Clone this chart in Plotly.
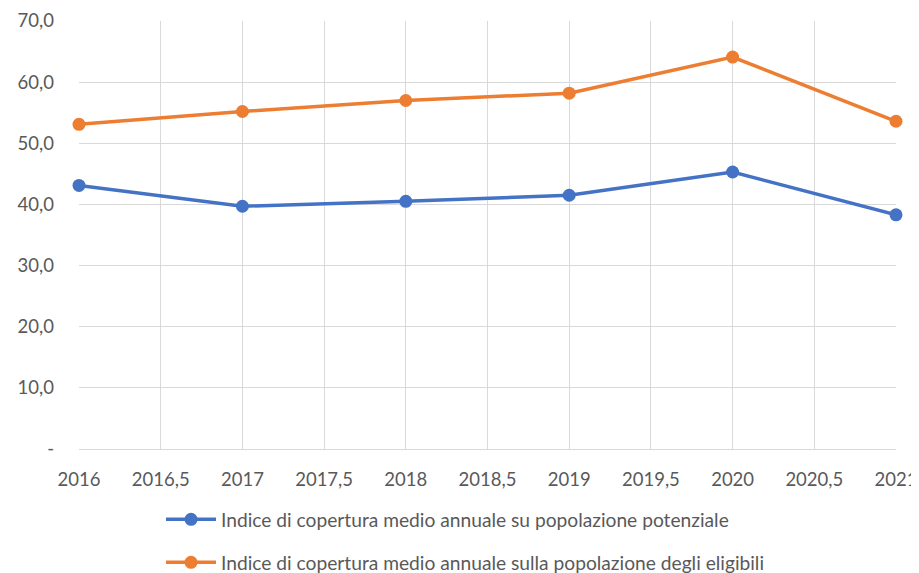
import plotly.graph_objects as go

years = [2016, 2017, 2018, 2019, 2020, 2021]
potenziale = [43.1, 39.7, 40.5, 41.5, 45.3, 38.3]
eligibili = [53.1, 55.2, 57.0, 58.2, 64.1, 53.6]

name_pot = "Indice di copertura medio annuale su popolazione potenziale"
name_eli = "Indice di copertura medio annuale sulla popolazione degli eligibili"

y_tickvals = [0, 10, 20, 30, 40, 50, 60, 70]
y_ticktext = ["-", "10,0", "20,0", "30,0", "40,0", "50,0", "60,0", "70,0"]
x_tickvals = [2016, 2016.5, 2017, 2017.5, 2018, 2018.5, 2019, 2019.5, 2020, 2020.5, 2021]
x_ticktext = ["2016", "2016,5", "2017", "2017,5", "2018", "2018,5",
              "2019", "2019,5", "2020", "2020,5", "2021"]

fig = go.Figure()

fig.add_trace(go.Scatter(
    x=years, y=potenziale, mode="lines+markers", name=name_pot,
    line=dict(color="#4472C4", width=3.5),
    marker=dict(color="#4472C4", size=13),
    legendgroup="a", cliponaxis=False,
))
fig.add_trace(go.Scatter(
    x=years, y=eligibili, mode="lines+markers", name=name_eli,
    line=dict(color="#ED7D31", width=3.5),
    marker=dict(color="#ED7D31", size=13),
    legendgroup="b", cliponaxis=False,
))

# the page body adds an 8px offset, so the figure is a bit smaller than the window
fig.update_layout(
    width=911, height=565,
    margin=dict(l=71, r=23, t=13, b=124, autoexpand=False),
    paper_bgcolor="white", plot_bgcolor="white",
    font=dict(family="Lato, Open Sans, sans-serif", size=18.5, color="#595959"),
    legend=dict(
        orientation="v", x=0.1004, xanchor="left", y=-0.12, yanchor="top",
        traceorder="grouped", tracegroupgap=15, itemwidth=50,
        font=dict(size=19.2, color="#595959"),
    ),
    showlegend=True,
)

fig.update_xaxes(
    range=[2016, 2021], tickvals=x_tickvals, ticktext=x_ticktext,
    showgrid=True, gridcolor="#D9D9D9", gridwidth=1,
    showline=True, linecolor="#D9D9D9", linewidth=1, mirror=False,
    zeroline=False, ticks="", ticklabelstandoff=14,
    automargin=False, ticklabeloverflow="allow",
)
fig.update_yaxes(
    range=[0, 70], tickvals=y_tickvals, ticktext=y_ticktext,
    showgrid=True, gridcolor="#D9D9D9", gridwidth=1,
    showline=False, zeroline=False, ticks="", ticklabelstandoff=24,
    automargin=False, ticklabeloverflow="allow",
)

fig.write_html("out.html")
